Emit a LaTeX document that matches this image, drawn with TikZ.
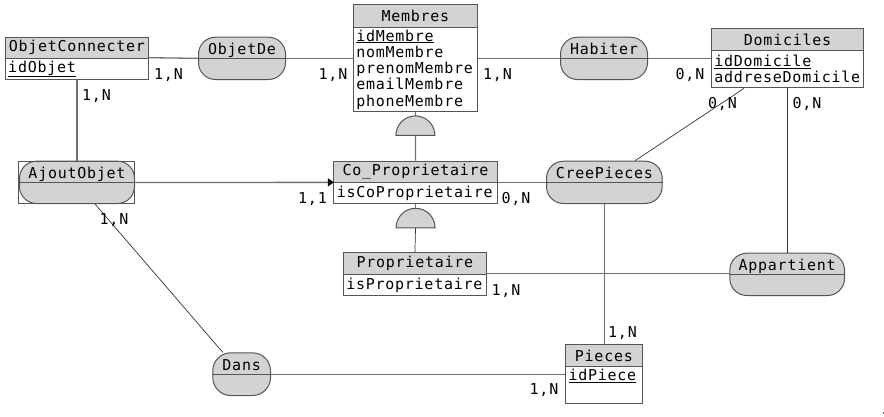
\documentclass[tikz,border=0pt]{standalone}
\usepackage{fontspec}
\newfontfamily\erfont{DejaVu Sans Mono}[LetterSpace=5]
\usetikzlibrary{arrows.meta,calc}
\definecolor{hdr}{HTML}{D3D3D3}
\definecolor{bord}{HTML}{555555}
\definecolor{lin}{HTML}{707070}
\begin{document}
\begin{tikzpicture}[x=1pt,y=-1pt,
  font=\erfont\fontsize{15}{16.25}\selectfont,
  hd/.style={draw=bord, fill=hdr, line width=1.1pt, anchor=north west, inner sep=0pt, align=center},
  bd/.style={draw=bord, fill=white, line width=1.1pt, anchor=north west, inner xsep=3pt, inner ysep=0pt, align=left},
  rel/.style={draw=bord, fill=hdr, line width=1pt, rounded corners=17pt, anchor=north west, inner sep=0pt, minimum height=42.3pt},
  reltxt/.style={anchor=base, inner sep=0pt},
  conn/.style={draw=lin, line width=1.3pt},
  thin/.style={draw=black!80, line width=0.7pt},
  card/.style={anchor=base, inner sep=0pt},
  inh/.style={draw=bord, fill=hdr, line width=1pt}]
\useasboundingbox (0,0) rectangle (884,416);

% ---------- entities ----------
\node[hd, minimum width=143.3pt, minimum height=21pt] (oc) at (4.7,36.7) {ObjetConnecter};
\node[bd, text width=137.3pt, minimum height=21.3pt] (ocb) at (4.7,57.7) {\underline{idObjet}};

\node[hd, minimum width=124.3pt, minimum height=22.4pt] (mem) at (352.7,4.3) {Membres};
\node[bd, text width=118.3pt, minimum height=84.3pt] (memb) at (352.7,26.7) {\underline{idMembre}\\nomMembre\\prenomMembre\\emailMembre\\phoneMembre};

\node[hd, minimum width=152.6pt, minimum height=21.7pt] (dom) at (710.7,28.3) {Domiciles};
\node[bd, text width=146.6pt, minimum height=37.3pt] (domb) at (710.7,50) {\underline{idDomicile}\\addreseDomicile};

\node[hd, minimum width=163.4pt, minimum height=21pt] (cop) at (333.3,160.7) {Co\_Proprietaire};
\node[bd, text width=157.4pt, minimum height=21.6pt] (copb) at (333.3,181.7) {isCoProprietaire};

\node[hd, minimum width=143.3pt, minimum height=21.4pt] (prop) at (342.7,252.3) {Proprietaire};
\node[bd, text width=137.3pt, minimum height=21.3pt] (propb) at (342.7,273.7) {isProprietaire};

\node[hd, minimum width=76.7pt, minimum height=21.7pt] (pie) at (565,344.3) {Pieces};
\node[bd, text width=70.7pt, minimum height=37.3pt] (pieb) at (565,366) {\underline{idPiece}\\\strut};

% ---------- relations ----------
\node[rel, minimum width=87pt] (od) at (198,36.7) {};
\node[rel, minimum width=87pt] (hab) at (560,36.7) {};
\node[rel, minimum width=115pt] (ajout) at (19,160.7) {};
\node[draw=bord, line width=1pt, minimum width=116pt, minimum height=42.6pt, inner sep=0pt, anchor=north west] (ajoutbox) at (18.3,160.7) {};
\node[rel, minimum width=115.7pt] (cree) at (546,160.7) {};
\node[rel, minimum width=114.7pt] (app) at (729.3,252.7) {};
\node[rel, minimum width=57.7pt, minimum height=42.7pt, rounded corners=18pt] (dans) at (212.3,352.3) {};

\foreach \r in {od,hab,ajout,cree,app,dans}{
  \draw[draw=bord, line width=1pt] (\r.west) -- (\r.east);
}
\node[reltxt] (odt) at ([yshift=3.5pt]od.center) {ObjetDe};
\node[reltxt] (habt) at ([yshift=3.5pt]hab.center) {Habiter};
\node[reltxt] (ajoutt) at ([yshift=3.5pt]ajout.center) {AjoutObjet};
\node[reltxt] (creet) at ([yshift=3.5pt]cree.center) {CreePieces};
\node[reltxt] (appt) at ([yshift=3.5pt]app.center) {Appartient};
\node[reltxt] (danst) at ([yshift=3.5pt]dans.center) {Dans};

% ---------- connectors ----------
\draw[conn] (ocb.north east) -- (od.west);
\draw[conn] (od.east) -- (od.east -| memb.west);
\draw[conn] (hab.west -| memb.east) -- (hab.west);
\draw[conn] (hab.east) -- (hab.east -| domb.west);
\draw[conn] (ocb.south) -- (ocb.south |- ajout.north);
\draw[conn, -{Triangle[length=6pt,width=8pt,fill=black,color=black]}, shorten >=-0.5pt] (ajoutbox.east) -- (ajout.east -| copb.west);
\draw[conn] (cree.west -| copb.east) -- (cree.west);
\coordinate (creeTop) at ($(cree.north west)+(89,0)$);
\coordinate (domBot) at ($(domb.south west)+(33.3,0)$);
\draw[thin] (creeTop) -- (domBot);
\coordinate (domBot2) at (domb.south -| app.north);
\draw[thin] (domBot2) -- (app.north);
\draw[conn] (propb.north east) -- (propb.north east -| app.west);
\draw[conn] (cree.south) -- (cree.south |- pie.north);
\coordinate (ajBot) at ($(ajout.south west)+(76,0)$);
\coordinate (dansTop) at ($(dans.north west)+(10.4,0)$);
\draw[thin] (ajBot) -- (dansTop);
\draw[conn] (dans.east) -- (dans.east -| pieb.west);

% ---------- inheritance ----------
\draw[conn] (memb.south) -- ++(0,4);
\draw[inh] ($(memb.south)+(-19.5,23.3)$) arc[start angle=180, end angle=360, radius=19.5] -- cycle;
\draw[conn] ($(memb.south)+(0,23.3)$) -- (cop.north);
\draw[conn] (copb.south) -- ++(0,4);
\draw[inh] ($(copb.south)+(-19.5,23.4)$) arc[start angle=180, end angle=360, radius=19.5] -- cycle;
\draw[thin] ($(copb.south)+(0,23.4)$) -- (prop.north);

% ---------- cardinalities ----------
\node[card] (c1) at (168.5,79.3) {1,N};
\node[card] (c2) at (333,79.3) {1,N};
\node[card] (c3) at (96.5,100) {1,N};
\node[card] (c4) at (312.5,203.3) {1,1};
\node[card] (c5) at (497.5,79.3) {1,N};
\node[card] (c6) at (690,79) {0,N};
\node[card] (c7) at (722.5,108.3) {0,N};
\node[card] (c8) at (807,108.3) {0,N};
\node[card] (c9) at (516,203.3) {0,N};
\node[card] (c10) at (114,224) {1,N};
\node[card] (c11) at (506,295) {1,N};
\node[card] (c12) at (622.5,337.7) {1,N};
\node[card] (c13) at (544,394.3) {1,N};

\fill[bord] (882.5,412) rectangle (884,414);
\end{tikzpicture}
\end{document}
